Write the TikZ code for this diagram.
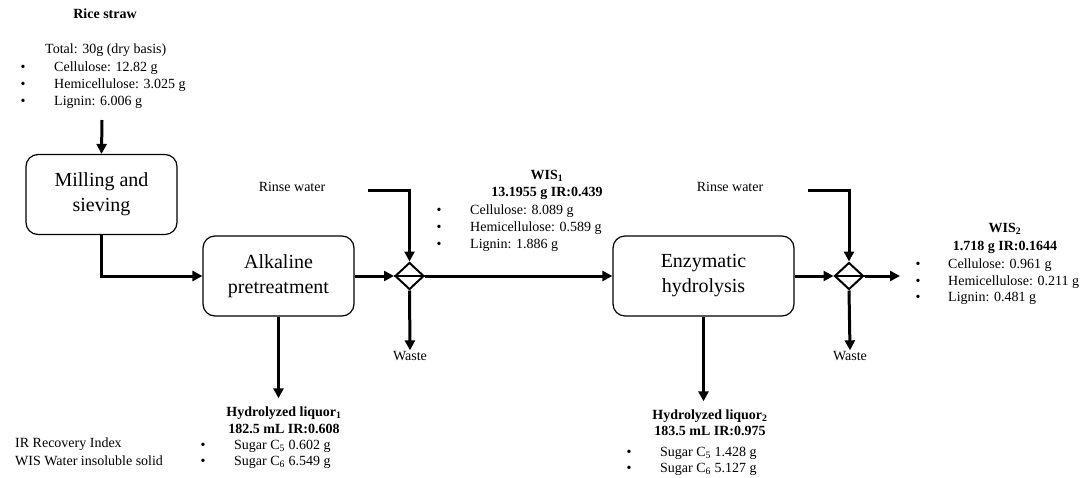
\documentclass[tikz,border=0pt]{standalone}
\usepackage{fontspec}
\setmainfont{Liberation Serif}
\usetikzlibrary{shapes.geometric,arrows.meta}
\begin{document}
\begin{tikzpicture}[x=1pt,y=-1pt,
  flow/.style={line width=3pt,-{Triangle[length=10pt,width=10pt]}},
  unit/.style={draw,line width=1.2pt,rounded corners=12pt,minimum height=80pt,
    align=center,font=\fontsize{20}{25}\selectfont},
  mixer/.style={draw,diamond,line width=2pt,fill=white,minimum width=29pt,
    minimum height=27pt,inner sep=0pt},
  txt/.style={font=\fontsize{14}{17}\selectfont,inner sep=0pt,text height=10pt,text depth=3pt},
  head/.style={txt,font=\fontsize{14}{17}\selectfont\bfseries},
  item/.style={txt,anchor=west},
  dot/.style={txt,font=\fontsize{14}{17}\selectfont},
]
\useasboundingbox (0,0) rectangle (1086,477);

% ---- feed description ----
\node[head] (feedtitle) at (105,15) {Rice straw};
\node[item] (total) at (45,50) {Total: 30g (dry basis)};
\node[dot] (fb1) at (23,68) {\textbullet};
\node[dot] (fb2) at (23,85) {\textbullet};
\node[dot] (fb3) at (23,102) {\textbullet};
\node[item] (fcel) at (54,68) {Cellulose: 12.82 g};
\node[item] (fhem) at (54,85) {Hemicellulose: 3.025 g};
\node[item] (flig) at (54,102) {Lignin: 6.006 g};
\coordinate (feed) at (102,120);

% ---- process units ----
\node[unit,minimum width=151pt] (mill) at (101.5,194.5) {Milling and\\sieving};
\node[unit,minimum width=151pt] (alk) at (278.5,276) {Alkaline\\pretreatment};
\node[unit,minimum width=181pt] (enz) at (703.5,276) {Enzymatic\\hydrolysis};

% ---- washing / separation points ----
\node[mixer] (d1) at (409.5,276) {};
\node[mixer] (d2) at (849,276) {};

% ---- rinse water inlets ----
\node[txt] (rinse1) at (292,188) {Rinse water};
\coordinate (r1) at (368,190);
\node[txt] (rinse2) at (730,188) {Rinse water};
\coordinate (r2) at (808,190);

% ---- waste outlets ----
\node[txt] (waste1) at (410,357) {Waste};
\node[txt] (waste2) at (850,357) {Waste};

% ---- WIS1 ----
\node[head] (wis1a) at (547,176) {WIS\textsubscript{1}};
\node[head] (wis1b) at (547,193) {13.1955 g IR:0.439};
\node[dot] (wb1) at (439,211) {\textbullet};
\node[dot] (wb2) at (439,228) {\textbullet};
\node[dot] (wb3) at (439,245) {\textbullet};
\node[item] (wcel) at (470,211) {Cellulose: 8.089 g};
\node[item] (whem) at (470,228) {Hemicellulose: 0.589 g};
\node[item] (wlig) at (470,245) {Lignin: 1.886 g};

% ---- WIS2 ----
\coordinate (out) at (900,276);
\node[head] (wis2a) at (1005,229) {WIS\textsubscript{2}};
\node[head] (wis2b) at (1005,247) {1.718 g IR:0.1644};
\node[dot] (vb1) at (918,265) {\textbullet};
\node[dot] (vb2) at (918,282) {\textbullet};
\node[dot] (vb3) at (918,298) {\textbullet};
\node[item] (vcel) at (948,265) {Cellulose: 0.961 g};
\node[item] (vhem) at (948,282) {Hemicellulose: 0.211 g};
\node[item] (vlig) at (948,298) {Lignin: 0.481 g};

% ---- hydrolyzed liquor 1 ----
\node[head] (liq1a) at (284,413) {Hydrolyzed liquor\textsubscript{1}};
\node[head] (liq1b) at (284,430) {182.5 mL IR:0.608};
\node[dot] (lb1) at (203,446) {\textbullet};
\node[dot] (lb2) at (203,462) {\textbullet};
\node[item] (lc5) at (234,446) {Sugar C\textsubscript{5} 0.602 g};
\node[item] (lc6) at (234,462) {Sugar C\textsubscript{6} 6.549 g};

% ---- hydrolyzed liquor 2 ----
\node[head] (liq2a) at (710,416) {Hydrolyzed liquor\textsubscript{2}};
\node[head] (liq2b) at (710,432) {183.5 mL IR:0.975};
\node[dot] (mb1) at (629,453) {\textbullet};
\node[dot] (mb2) at (629,469) {\textbullet};
\node[item] (mc5) at (660,453) {Sugar C\textsubscript{5} 1.428 g};
\node[item] (mc6) at (660,469) {Sugar C\textsubscript{6} 5.127 g};

% ---- legend ----
\node[item] (leg1) at (15,444) {IR Recovery Index};
\node[item] (leg2) at (15,462) {WIS Water insoluble solid};

% ---- streams ----
\draw[flow] (feed) -- (mill.north);
\draw[flow] (mill.south) |- (alk.west);
\draw[flow] (alk.east) -- (d1.west);
\draw[flow] (r1) -| (d1.north);
\draw[flow] (d1.south) -- (waste1.north);
\draw[flow] (d1.east) -- (enz.west);
\draw[flow,shorten >=8pt] (alk.south) -- (alk.south |- liq1a.north);
\draw[flow] (enz.east) -- (d2.west);
\draw[flow] (r2) -| (d2.north);
\draw[flow] (d2.south) -- (waste2.north);
\draw[flow] (d2.east) -- (out);
\draw[flow,shorten >=8pt] (enz.south) -- (enz.south |- liq2a.north);
\draw[line width=2pt] (d1.west) -- (d1.east);
\draw[line width=2pt] (d2.west) -- (d2.east);
\end{tikzpicture}
\end{document}
